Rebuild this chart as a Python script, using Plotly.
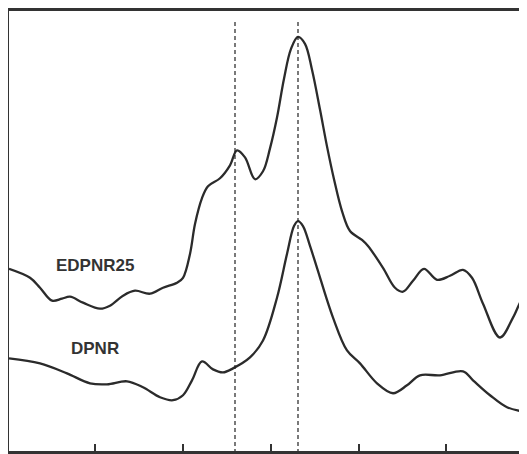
import plotly.graph_objects as go

# EDPNR25 spectrum (upper curve)
edpnr25_x = [9, 30, 40, 52, 62, 70, 83, 100, 110, 123, 135, 150, 163, 177, 183, 190, 195, 202, 208, 220,
             230, 237, 245, 255, 263, 270, 277, 284, 291, 298, 305, 312, 320, 327, 334, 342, 350, 362, 368,
             383, 395, 403, 413, 424, 437, 450, 463, 472, 483, 500, 513, 522, 527]
edpnr25_y = [268, 277, 287, 300, 298, 296, 302, 308, 305, 295, 290, 293, 287, 282, 277, 253, 223, 197, 185, 177,
             164, 149, 156, 178, 170, 147, 116, 77, 47, 35, 42, 68, 108, 145, 178, 210, 230, 239, 245,
             267, 287, 291, 280, 268, 279, 275, 269, 277, 303, 337, 317, 298, 292]

# DPNR spectrum (lower curve)
dpnr_x = [9, 40, 67, 90, 107, 127, 143, 160, 173, 183, 192, 202, 213, 223, 233, 250, 263, 277, 287, 294,
          298, 303, 310, 317, 333, 347, 360, 377, 393, 407, 420, 440, 463, 473, 490, 507, 527]
dpnr_y = [358, 363, 373, 383, 384, 381, 387, 397, 400, 395, 380, 361, 369, 372, 368, 357, 340, 297, 253, 225,
          220, 225, 245, 267, 317, 350, 363, 383, 393, 385, 375, 375, 371, 380, 395, 407, 412]

tick_x = [95, 183, 271, 359, 446]
dashed_x = [235, 298]
labels = ["EDPNR25", "DPNR"]
label_x = [95, 95]
label_y = [265, 348]

line_col = "#2b2b2b"
fig = go.Figure()
fig.add_trace(go.Scatter(x=edpnr25_x, y=edpnr25_y, mode="lines",
                         line=dict(color=line_col, width=2.3, shape="spline", smoothing=1.0)))
fig.add_trace(go.Scatter(x=dpnr_x, y=dpnr_y, mode="lines",
                         line=dict(color=line_col, width=2.3, shape="spline", smoothing=1.0)))

for xv in dashed_x:
    fig.add_shape(type="line", x0=xv, x1=xv, y0=20, y1=451, xref="x", yref="y",
                  line=dict(color="#222", width=1.2, dash="4px,3px"))

for t, xv, yv in zip(labels, label_x, label_y):
    fig.add_annotation(x=xv, y=yv, text="<b>" + t + "</b>", showarrow=False,
                       font=dict(family="Liberation Sans, Arial", size=17, color="#333"))

fig.update_layout(
    width=519, height=446, showlegend=False,
    margin=dict(l=1, r=0, t=1, b=3),
    plot_bgcolor="white", paper_bgcolor="white",
    xaxis=dict(range=[9, 527], showgrid=False, zeroline=False, showline=True, linecolor="#333",
               linewidth=2.5, mirror=True, tickvals=tick_x, ticks="inside", ticklen=7,
               tickwidth=2, tickcolor="#333", showticklabels=False),
    yaxis=dict(range=[451, 9], showgrid=False, zeroline=False, showline=True, linecolor="#333",
               linewidth=2.5, ticks="", showticklabels=False),
)
fig.write_html("out.html")
